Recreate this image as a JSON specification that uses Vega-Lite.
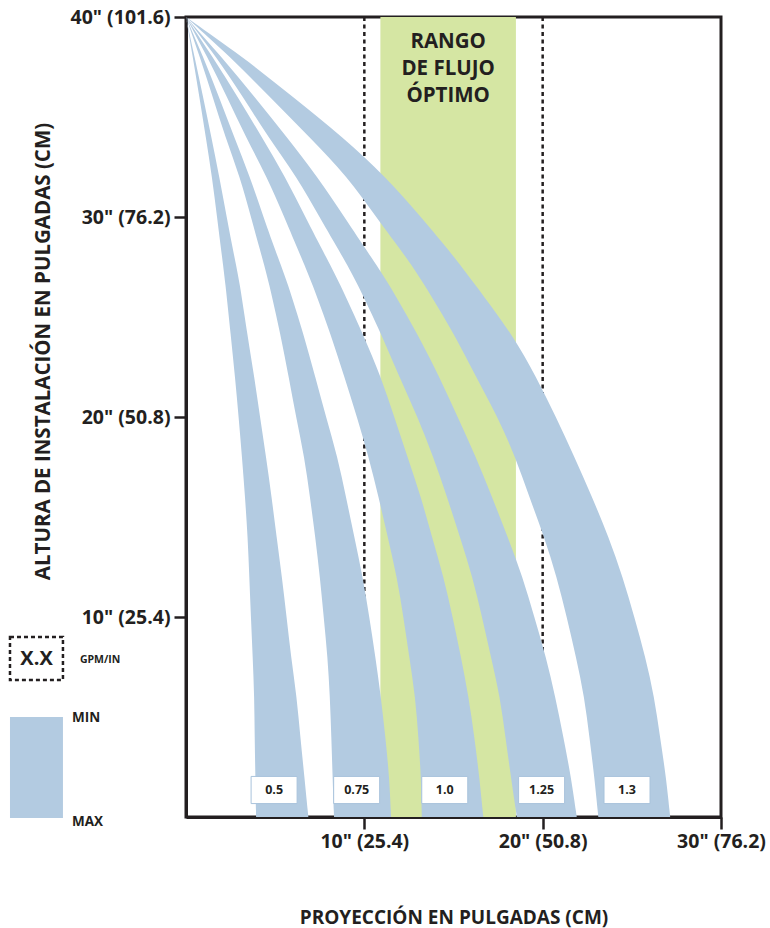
{
  "$schema": "https://vega.github.io/schema/vega-lite/v6.json",
  "description": "Proyeccion del flujo segun altura de instalacion y caudal (GPM/IN).",
  "width": 535,
  "height": 800,
  "autosize": "none",
  "padding": {"left": 186, "top": 17, "right": 49, "bottom": 111},
  "background": "white",
  "datasets": {
    "bands": [
      {"gpm": "0.5", "h": 40, "lo": 0, "hi": 0},
      {"gpm": "0.5", "h": 38, "lo": 0.38, "hi": 0.48},
      {"gpm": "0.5", "h": 36, "lo": 0.75, "hi": 0.96},
      {"gpm": "0.5", "h": 34, "lo": 1.11, "hi": 1.42},
      {"gpm": "0.5", "h": 32, "lo": 1.46, "hi": 1.87},
      {"gpm": "0.5", "h": 30, "lo": 1.74, "hi": 2.28},
      {"gpm": "0.5", "h": 28, "lo": 2.02, "hi": 2.71},
      {"gpm": "0.5", "h": 26.85, "lo": 2.19, "hi": 2.99},
      {"gpm": "0.5", "h": 24, "lo": 2.52, "hi": 3.46},
      {"gpm": "0.5", "h": 22, "lo": 2.75, "hi": 3.83},
      {"gpm": "0.5", "h": 20, "lo": 2.95, "hi": 4.15},
      {"gpm": "0.5", "h": 18, "lo": 3.14, "hi": 4.49},
      {"gpm": "0.5", "h": 16, "lo": 3.31, "hi": 4.8},
      {"gpm": "0.5", "h": 14, "lo": 3.46, "hi": 5.08},
      {"gpm": "0.5", "h": 12, "lo": 3.55, "hi": 5.38},
      {"gpm": "0.5", "h": 10, "lo": 3.64, "hi": 5.64},
      {"gpm": "0.5", "h": 8, "lo": 3.74, "hi": 5.89},
      {"gpm": "0.5", "h": 6, "lo": 3.83, "hi": 6.21},
      {"gpm": "0.5", "h": 4, "lo": 3.85, "hi": 6.41},
      {"gpm": "0.5", "h": 2, "lo": 3.89, "hi": 6.64},
      {"gpm": "0.5", "h": 0, "lo": 3.93, "hi": 6.86},

      {"gpm": "0.75", "h": 40, "lo": 0, "hi": 0},
      {"gpm": "0.75", "h": 38, "lo": 0.78, "hi": 0.97},
      {"gpm": "0.75", "h": 36, "lo": 1.5, "hi": 1.85},
      {"gpm": "0.75", "h": 34, "lo": 2.2, "hi": 2.7},
      {"gpm": "0.75", "h": 32, "lo": 3.03, "hi": 3.59},
      {"gpm": "0.75", "h": 30, "lo": 3.64, "hi": 4.34},
      {"gpm": "0.75", "h": 28, "lo": 4.26, "hi": 5.14},
      {"gpm": "0.75", "h": 26.85, "lo": 4.62, "hi": 5.65},
      {"gpm": "0.75", "h": 24, "lo": 5.33, "hi": 6.64},
      {"gpm": "0.75", "h": 22, "lo": 5.76, "hi": 7.25},
      {"gpm": "0.75", "h": 20, "lo": 6.17, "hi": 7.85},
      {"gpm": "0.75", "h": 18, "lo": 6.64, "hi": 8.5},
      {"gpm": "0.75", "h": 16, "lo": 6.95, "hi": 8.97},
      {"gpm": "0.75", "h": 14, "lo": 7.25, "hi": 9.44},
      {"gpm": "0.75", "h": 12, "lo": 7.51, "hi": 9.91},
      {"gpm": "0.75", "h": 10, "lo": 7.72, "hi": 10.28},
      {"gpm": "0.75", "h": 8, "lo": 7.94, "hi": 10.62},
      {"gpm": "0.75", "h": 6, "lo": 8.07, "hi": 10.93},
      {"gpm": "0.75", "h": 4, "lo": 8.15, "hi": 11.18},
      {"gpm": "0.75", "h": 2, "lo": 8.22, "hi": 11.4},
      {"gpm": "0.75", "h": 0, "lo": 8.3, "hi": 11.5},

      {"gpm": "1.0", "h": 40, "lo": 0, "hi": 0},
      {"gpm": "1.0", "h": 38, "lo": 1.2, "hi": 1.5},
      {"gpm": "1.0", "h": 36, "lo": 2.3, "hi": 2.9},
      {"gpm": "1.0", "h": 34, "lo": 3.35, "hi": 4.25},
      {"gpm": "1.0", "h": 32, "lo": 4.54, "hi": 5.57},
      {"gpm": "1.0", "h": 30, "lo": 5.51, "hi": 6.69},
      {"gpm": "1.0", "h": 28, "lo": 6.45, "hi": 7.85},
      {"gpm": "1.0", "h": 26.85, "lo": 7.01, "hi": 8.54},
      {"gpm": "1.0", "h": 24, "lo": 8.17, "hi": 10.0},
      {"gpm": "1.0", "h": 22, "lo": 8.88, "hi": 10.93},
      {"gpm": "1.0", "h": 20, "lo": 9.59, "hi": 11.68},
      {"gpm": "1.0", "h": 18, "lo": 10.24, "hi": 12.42},
      {"gpm": "1.0", "h": 16, "lo": 10.8, "hi": 13.18},
      {"gpm": "1.0", "h": 14, "lo": 11.31, "hi": 13.79},
      {"gpm": "1.0", "h": 12, "lo": 11.83, "hi": 14.45},
      {"gpm": "1.0", "h": 10, "lo": 12.19, "hi": 14.95},
      {"gpm": "1.0", "h": 8, "lo": 12.52, "hi": 15.42},
      {"gpm": "1.0", "h": 6, "lo": 12.86, "hi": 15.85},
      {"gpm": "1.0", "h": 4, "lo": 13.03, "hi": 16.17},
      {"gpm": "1.0", "h": 2, "lo": 13.18, "hi": 16.45},
      {"gpm": "1.0", "h": 0, "lo": 13.22, "hi": 16.67},

      {"gpm": "1.25", "h": 40, "lo": 0, "hi": 0},
      {"gpm": "1.25", "h": 38, "lo": 1.7, "hi": 2.0},
      {"gpm": "1.25", "h": 36, "lo": 3.2, "hi": 3.85},
      {"gpm": "1.25", "h": 34, "lo": 4.6, "hi": 5.65},
      {"gpm": "1.25", "h": 32, "lo": 6.22, "hi": 7.38},
      {"gpm": "1.25", "h": 30, "lo": 7.48, "hi": 8.88},
      {"gpm": "1.25", "h": 28, "lo": 8.79, "hi": 10.37},
      {"gpm": "1.25", "h": 26.85, "lo": 9.52, "hi": 11.26},
      {"gpm": "1.25", "h": 24, "lo": 11.03, "hi": 13.08},
      {"gpm": "1.25", "h": 22, "lo": 11.96, "hi": 14.21},
      {"gpm": "1.25", "h": 20, "lo": 12.99, "hi": 15.23},
      {"gpm": "1.25", "h": 18, "lo": 13.87, "hi": 16.26},
      {"gpm": "1.25", "h": 16, "lo": 14.64, "hi": 17.16},
      {"gpm": "1.25", "h": 14, "lo": 15.36, "hi": 18.04},
      {"gpm": "1.25", "h": 12, "lo": 16.07, "hi": 18.88},
      {"gpm": "1.25", "h": 10, "lo": 16.6, "hi": 19.53},
      {"gpm": "1.25", "h": 8, "lo": 17.1, "hi": 20.19},
      {"gpm": "1.25", "h": 6, "lo": 17.61, "hi": 20.71},
      {"gpm": "1.25", "h": 4, "lo": 17.91, "hi": 21.16},
      {"gpm": "1.25", "h": 2, "lo": 18.22, "hi": 21.59},
      {"gpm": "1.25", "h": 0, "lo": 18.55, "hi": 21.91},

      {"gpm": "1.3", "h": 40, "lo": 0, "hi": 0},
      {"gpm": "1.3", "h": 38, "lo": 2.5, "hi": 3.2},
      {"gpm": "1.3", "h": 36, "lo": 4.7, "hi": 6.0},
      {"gpm": "1.3", "h": 34, "lo": 6.92, "hi": 8.79},
      {"gpm": "1.3", "h": 32, "lo": 9.07, "hi": 11.21},
      {"gpm": "1.3", "h": 30, "lo": 10.65, "hi": 13.18},
      {"gpm": "1.3", "h": 28, "lo": 12.34, "hi": 15.05},
      {"gpm": "1.3", "h": 26.85, "lo": 13.22, "hi": 16.02},
      {"gpm": "1.3", "h": 24, "lo": 15.14, "hi": 18.41},
      {"gpm": "1.3", "h": 22, "lo": 16.26, "hi": 19.63},
      {"gpm": "1.3", "h": 20, "lo": 17.48, "hi": 20.75},
      {"gpm": "1.3", "h": 18, "lo": 18.47, "hi": 21.78},
      {"gpm": "1.3", "h": 16, "lo": 19.25, "hi": 22.77},
      {"gpm": "1.3", "h": 14, "lo": 20.09, "hi": 23.7},
      {"gpm": "1.3", "h": 12, "lo": 20.79, "hi": 24.49},
      {"gpm": "1.3", "h": 10, "lo": 21.35, "hi": 25.14},
      {"gpm": "1.3", "h": 8, "lo": 21.87, "hi": 25.76},
      {"gpm": "1.3", "h": 6, "lo": 22.34, "hi": 26.26},
      {"gpm": "1.3", "h": 4, "lo": 22.62, "hi": 26.58},
      {"gpm": "1.3", "h": 2, "lo": 22.9, "hi": 26.92},
      {"gpm": "1.3", "h": 0, "lo": 23.12, "hi": 27.15}
    ],
    "labels": [
      {"gpm": "0.5", "lx": 4.94, "ly": 1.35},
      {"gpm": "0.75", "lx": 9.57, "ly": 1.35},
      {"gpm": "1.0", "lx": 14.51, "ly": 1.35},
      {"gpm": "1.25", "lx": 19.94, "ly": 1.35},
      {"gpm": "1.3", "lx": 24.73, "ly": 1.35}
    ]
  },
  "layer": [
    {
      "data": {"values": [{"zone": "RANGO DE FLUJO ÓPTIMO", "from": 10.9, "to": 18.5, "bottom": 0, "top": 40}]},
      "mark": {"type": "rect", "fill": "#d5e6a3"},
      "encoding": {
        "x": {
          "field": "from", "type": "quantitative",
          "scale": {"domain": [0, 30], "nice": false},
          "axis": {
            "title": "PROYECCIÓN EN PULGADAS (CM)",
            "values": [10, 20, 30],
            "labelExpr": "datum.value + '\" (' + format(datum.value * 2.54, '.1f') + ')'",
            "labelPadding": 3,
            "titleY": 100,
            "titleBaseline": "middle"
          }
        },
        "x2": {"field": "to"},
        "y": {
          "field": "bottom", "type": "quantitative",
          "scale": {"domain": [0, 40], "nice": false},
          "axis": {
            "title": "ALTURA DE INSTALACIÓN EN PULGADAS (CM)",
            "values": [10, 20, 30, 40],
            "labelExpr": "datum.value + '\" (' + format(datum.value * 2.54, '.1f') + ')'",
            "titleX": -143,
            "titleY": 334,
            "titleFontSize": 20.5,
            "titleBaseline": "middle",
            "titleAlign": "center"
          }
        },
        "y2": {"field": "top"}
      }
    },
    {
      "data": {"values": [{"x": 10}, {"x": 20}]},
      "mark": {"type": "rule", "color": "#231f20", "strokeWidth": 2.5, "strokeDash": [4, 3.5]},
      "encoding": {"x": {"field": "x", "type": "quantitative"}}
    },
    {
      "data": {"name": "bands"},
      "mark": {"type": "area", "orient": "horizontal", "interpolate": "basis", "color": "#b3cbe1"},
      "encoding": {
        "y": {"field": "h", "type": "quantitative"},
        "x": {"field": "lo", "type": "quantitative"},
        "x2": {"field": "hi"},
        "detail": {"field": "gpm", "type": "nominal"}
      }
    },
    {
      "data": {"values": [{"text": "RANGO\nDE FLUJO\nÓPTIMO", "x": 14.7, "y": 39.25}]},
      "mark": {"type": "text", "lineBreak": "\n", "baseline": "top", "align": "center", "fontSize": 20.5, "fontWeight": "bold", "lineHeight": 27, "color": "#231f20"},
      "encoding": {
        "x": {"field": "x", "type": "quantitative"},
        "y": {"field": "y", "type": "quantitative"},
        "text": {"field": "text"}
      }
    },
    {
      "data": {"name": "labels"},
      "mark": {"type": "point", "shape": "M-1,-0.59H1V0.59H-1Z", "size": 2116, "filled": true, "fill": "white", "stroke": "#a9c3dc", "strokeWidth": 1, "opacity": 1},
      "encoding": {
        "x": {"field": "lx", "type": "quantitative"},
        "y": {"field": "ly", "type": "quantitative"}
      }
    },
    {
      "data": {"name": "labels"},
      "mark": {"type": "text", "fontSize": 12.5, "fontWeight": "bold", "color": "#231f20", "baseline": "middle"},
      "encoding": {
        "x": {"field": "lx", "type": "quantitative"},
        "y": {"field": "ly", "type": "quantitative"},
        "text": {"field": "gpm"}
      }
    },
    {
      "data": {"values": [{"key": "X.X", "x": -9.87, "x2": -6.9, "y": 9.0, "y2": 6.85}]},
      "mark": {"type": "rect", "fill": "white", "stroke": "#231f20", "strokeWidth": 2.5, "strokeDash": [4, 3]},
      "encoding": {
        "x": {"field": "x", "type": "quantitative"},
        "x2": {"field": "x2"},
        "y": {"field": "y", "type": "quantitative"},
        "y2": {"field": "y2"}
      }
    },
    {
      "data": {"values": [{"key": "MIN-MAX", "x": -9.87, "x2": -6.9, "y": 5.0, "y2": -0.05}]},
      "mark": {"type": "rect", "fill": "#b3cbe1"},
      "encoding": {
        "x": {"field": "x", "type": "quantitative"},
        "x2": {"field": "x2"},
        "y": {"field": "y", "type": "quantitative"},
        "y2": {"field": "y2"}
      }
    },
    {
      "data": {"values": [{"text": "X.X", "x": -8.38, "y": 7.9}]},
      "mark": {"type": "text", "fontSize": 20, "fontWeight": "bold", "color": "#231f20", "baseline": "middle"},
      "encoding": {
        "x": {"field": "x", "type": "quantitative"},
        "y": {"field": "y", "type": "quantitative"},
        "text": {"field": "text"}
      }
    },
    {
      "data": {"values": [{"text": "GPM/IN", "x": -5.95, "y": 7.85}]},
      "mark": {"type": "text", "fontSize": 10.5, "fontWeight": "bold", "color": "#231f20", "baseline": "middle", "align": "left"},
      "encoding": {
        "x": {"field": "x", "type": "quantitative"},
        "y": {"field": "y", "type": "quantitative"},
        "text": {"field": "text"}
      }
    },
    {
      "data": {"values": [{"text": "MIN", "x": -6.39, "y": 4.95}, {"text": "MAX", "x": -6.39, "y": -0.25}]},
      "mark": {"type": "text", "fontSize": 13.5, "fontWeight": "bold", "color": "#231f20", "baseline": "middle", "align": "left"},
      "encoding": {
        "x": {"field": "x", "type": "quantitative"},
        "y": {"field": "y", "type": "quantitative"},
        "text": {"field": "text"}
      }
    }
  ],
  "config": {
    "font": "Open Sans",
    "view": {"stroke": "#231f20", "strokeWidth": 3},
    "axis": {
      "zindex": 1,
      "grid": false,
      "domainColor": "#231f20",
      "domainWidth": 3,
      "tickColor": "#231f20",
      "tickWidth": 2.5,
      "tickSize": 12,
      "labelFont": "Open Sans",
      "labelFontWeight": "bold",
      "labelFontSize": 19.5,
      "labelColor": "#231f20",
      "labelFlush": false,
      "labelOverlap": false,
      "labelBound": false,
      "labelPadding": 4,
      "titleFont": "Open Sans",
      "titleFontWeight": "bold",
      "titleFontSize": 19,
      "titleColor": "#231f20"
    }
  }
}
